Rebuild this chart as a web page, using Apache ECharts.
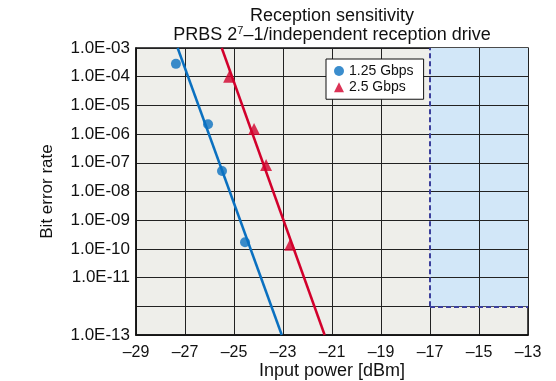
<!DOCTYPE html>
<html>
<head>
    <title>Reception sensitivity</title>
    <script src="https://cdn.jsdelivr.net/npm/echarts@6/dist/echarts.min.js"></script>
</head>
<body style="margin:0">
    <div id="chart" style="width: 556px; height: 381px;"></div>
    <script>
        // measured points (input power dBm, bit error rate)
        const gbps125Pts = [[-27.37, 2.8e-4], [-26.06, 2.2e-6], [-25.49, 5.2e-8], [-24.55, 1.7e-10]];
        const gbps25Pts = [[-25.2, 1.0e-4], [-24.18, 1.5e-6], [-23.69, 8.4e-8], [-22.71, 1.4e-10]];
        // fitted lines
        const gbps125Fit = [[-27.3, 1e-3], [-23.05, 1e-13]];
        const gbps25Fit = [[-25.5, 1e-3], [-21.3, 1e-13]];
        // axis ranges, ticks and spec region
        const xRange = [-29, -13];
        const yRange = [1e-13, 1e-3];
        const xTicks = [-29, -27, -25, -23, -21, -19, -17, -15, -13];
        const yTicks = [1e-13, 1e-12, 1e-11, 1e-10, 1e-9, 1e-8, 1e-7, 1e-6, 1e-5, 1e-4, 1e-3];
        const specX = [-17, -13];
        const specY = [1e-12, 1e-3];

        const blue = '#0a70c0';
        const red = '#d2002c';
        const font = 'Liberation Sans';

        // grid lines inside the spec box (redrawn over the shading)
        const specGrid = [];
        yTicks.filter(v => v > specY[0] && v < specY[1]).forEach(v => {
            specGrid.push([{ coord: [specX[0], v] }, { coord: [specX[1], v] }]);
        });
        xTicks.filter(v => v > specX[0] && v < specX[1]).forEach(v => {
            specGrid.push([{ coord: [v, specY[0]] }, { coord: [v, specY[1]] }]);
        });

        const option = {
            backgroundColor: '#fff',
            animation: false,
            textStyle: { fontFamily: font },
            title: {
                text: 'Reception sensitivity\nPRBS 2{sup|7}\u20131/independent reception drive',
                left: 332,
                textAlign: 'center',
                top: 7,
                padding: 0,
                textStyle: {
                    fontFamily: font,
                    fontSize: 18,
                    fontWeight: 'normal',
                    color: '#111',
                    lineHeight: 19,
                    rich: {
                        sup: { fontSize: 11, lineHeight: 19, padding: [0, 0, 9, 0], color: '#111' }
                    }
                }
            },
            legend: {
                zlevel: 3,
                orient: 'vertical',
                left: 326,
                top: 59,
                padding: [0, 10, 0, 8],
                itemGap: -8,
                itemWidth: 10,
                itemHeight: 10,
                backgroundColor: '#fff',
                borderColor: '#111',
                borderWidth: 1,
                borderRadius: 0,
                textStyle: { fontFamily: font, fontSize: 14, lineHeight: 16, color: '#111' },
                data: [
                    { name: '1.25 Gbps', icon: 'circle' },
                    { name: '2.5 Gbps', icon: 'triangle' }
                ]
            },
            grid: {
                left: 136, right: 28, top: 48, bottom: 46,
                containLabel: false,
                outerBoundsMode: 'none',
                show: true,
                backgroundColor: '#eeeeea',
                borderColor: '#111',
                borderWidth: 1.5
            },
            xAxis: {
                type: 'value',
                min: xRange[0], max: xRange[1], interval: 2,
                name: 'Input power [dBm]',
                nameLocation: 'middle',
                nameGap: 21,
                nameMoveOverlap: false,
                nameTextStyle: { fontFamily: font, fontSize: 18, color: '#111' },
                axisLine: { lineStyle: { color: '#111', width: 1.5 } },
                axisTick: { show: false },
                axisLabel: {
                    fontFamily: font, fontSize: 16, color: '#111', margin: 4,
                    showMinLabel: true, showMaxLabel: true,
                    formatter: v => (v < 0 ? '\u2013' : '') + Math.abs(v)
                },
                splitLine: { show: true, lineStyle: { color: '#222', width: 1 } }
            },
            yAxis: {
                type: 'log',
                logBase: 10,
                min: yRange[0], max: yRange[1],
                splitNumber: 10,
                name: 'Bit error rate',
                nameLocation: 'middle',
                nameGap: 74,
                nameMoveOverlap: false,
                nameRotate: 90,
                nameTextStyle: { fontFamily: font, fontSize: 17, color: '#111' },
                axisLine: { show: true, lineStyle: { color: '#111', width: 1.5 } },
                axisTick: { show: false },
                axisLabel: {
                    fontFamily: font, fontSize: 17, color: '#111', margin: 6,
                    showMinLabel: true, showMaxLabel: true, textMargin: 0,
                    formatter: v => {
                        const e = Math.round(Math.log10(v));
                        return '1.0E' + (e < 0 ? '-' : '+') + String(Math.abs(e)).padStart(2, '0');
                    }
                },
                splitLine: { show: true, lineStyle: { color: '#222', width: 1 } }
            },
            series: [
                {
                    name: 'spec',
                    type: 'line',
                    data: [],
                    silent: true,
                    markArea: {
                        silent: true,
                        itemStyle: { color: '#d2e7f8' },
                        data: [[{ xAxis: specX[0], yAxis: specY[0] }, { xAxis: specX[1], yAxis: specY[1] }]]
                    },
                    markLine: {
                        silent: true,
                        symbol: 'none',
                        label: { show: false },
                        lineStyle: { color: '#222', type: 'solid', width: 1 },
                        data: specGrid
                    }
                },
                {
                    name: 'specBorder',
                    type: 'line',
                    data: [],
                    silent: true,
                    markLine: {
                        silent: true,
                        z: 6,
                        symbol: 'none',
                        label: { show: false },
                        lineStyle: { color: '#3b3f9c', type: [5, 3], width: 2 },
                        data: [
                            [{ coord: [specX[0], specY[0]] }, { coord: [specX[0], specY[1]] }],
                            [{ coord: [specX[0], specY[0]] }, { coord: [specX[1], specY[0]] }]
                        ]
                    }
                },
                {
                    name: '1.25 fit',
                    type: 'line',
                    z: 5,
                    data: gbps125Fit,
                    symbol: 'none',
                    lineStyle: { color: blue, width: 2.5 }
                },
                {
                    name: '2.5 fit',
                    type: 'line',
                    z: 5,
                    data: gbps25Fit,
                    symbol: 'none',
                    lineStyle: { color: red, width: 2.5 }
                },
                {
                    name: '1.25 Gbps',
                    type: 'scatter',
                    z: 6,
                    data: gbps125Pts,
                    symbol: 'circle',
                    symbolSize: 10,
                    itemStyle: { color: blue }
                },
                {
                    name: '2.5 Gbps',
                    type: 'scatter',
                    z: 6,
                    data: gbps25Pts,
                    symbol: 'triangle',
                    symbolSize: 12,
                    itemStyle: { color: red }
                }
            ]
        };

        const myChart = echarts.init(document.getElementById('chart'));
        myChart.setOption(option);
    </script>
</body>
</html>
